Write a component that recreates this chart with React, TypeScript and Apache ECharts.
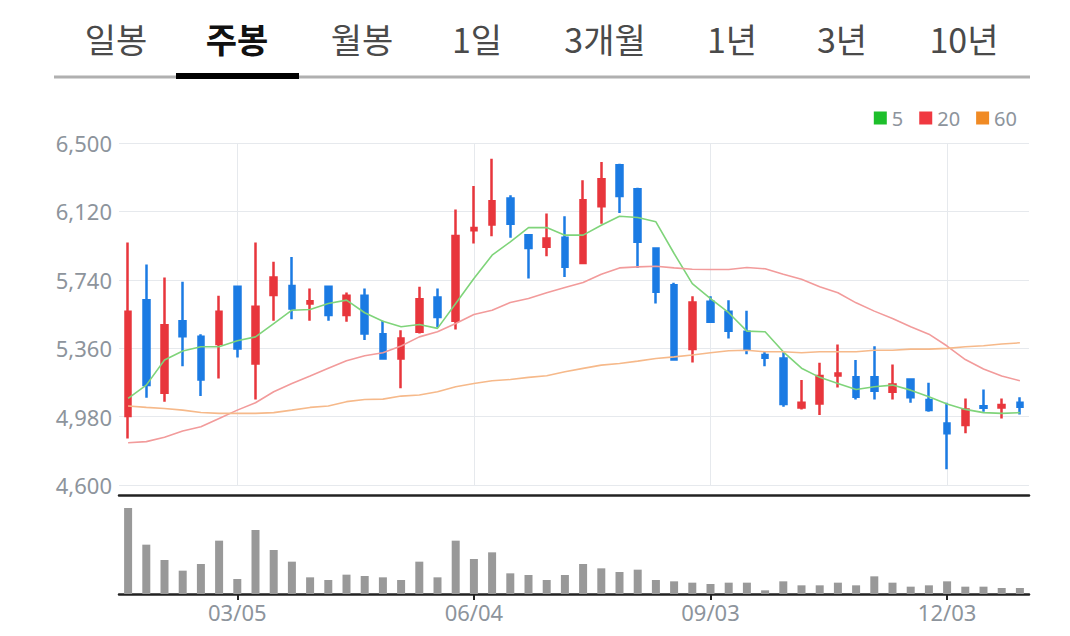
import React, { useEffect, useRef } from "react";
import * as echarts from "echarts";

// ---- data ----
const tabs = ["일봉", "주봉", "월봉", "1일", "3개월", "1년", "3년", "10년"];
const selectedTab = "주봉";

const dates = [
  "01/23", "01/30", "02/06", "02/13", "02/20", "02/27", "03/05", "03/12", "03/19", "03/26",
  "04/02", "04/09", "04/16", "04/23", "04/30", "05/07", "05/14", "05/21", "05/28", "06/04",
  "06/11", "06/18", "06/25", "07/02", "07/09", "07/16", "07/23", "07/30", "08/06", "08/13",
  "08/20", "08/27", "09/03", "09/10", "09/17", "09/24", "10/01", "10/08", "10/15", "10/22",
  "10/29", "11/05", "11/12", "11/19", "11/26", "12/03", "12/10", "12/17", "12/24", "12/31",
];
const labeledDates = ["03/05", "06/04", "09/03", "12/03"];

const opens = [
  4983, 5627, 5112, 5510, 5423, 5383, 5701, 5275, 5655, 5706,
  5608, 5701, 5544, 5651, 5438, 5303, 5451, 5642, 5512, 6015,
  6047, 6191, 5988, 5923, 5973, 5834, 6148, 6376, 6243, 5914,
  5710, 5355, 5618, 5562, 5451, 5322, 5303, 5031, 5053, 5209,
  5198, 5198, 5118, 5186, 5072, 4942, 4933, 5038, 5031, 5057,
];
const closes = [
  5562, 5155, 5488, 5427, 5186, 5562, 5359, 5590, 5753, 5581,
  5621, 5544, 5651, 5442, 5303, 5414, 5632, 5534, 5984, 6028,
  6176, 6052, 5917, 5969, 5812, 6182, 6298, 6206, 5951, 5673,
  5297, 5614, 5507, 5457, 5353, 5307, 5050, 5057, 5205, 5220,
  5090, 5124, 5159, 5087, 5016, 4887, 5020, 5029, 5044, 5035,
];
const lows = [
  4859, 5085, 5063, 5260, 5094, 5192, 5309, 5075, 5512, 5521,
  5512, 5512, 5507, 5405, 5298, 5137, 5442, 5475, 5464, 5941,
  5982, 5973, 5747, 5871, 5756, 5834, 6052, 6111, 5806, 5608,
  5290, 5281, 5501, 5414, 5327, 5260, 5035, 5020, 4989, 5142,
  5075, 5075, 5075, 5057, 5007, 4687, 4887, 5007, 4970, 4992,
];
const highs = [
  5947, 5825, 5753, 5729, 5438, 5651, 5701, 5947, 5840, 5867,
  5692, 5701, 5669, 5692, 5512, 5460, 5701, 5692, 6130, 6261,
  6413, 6210, 5988, 6108, 6093, 6293, 6395, 6385, 6252, 5919,
  5723, 5649, 5649, 5627, 5568, 5340, 5340, 5183, 5279, 5381,
  5294, 5371, 5270, 5192, 5168, 5057, 5081, 5131, 5081, 5087,
];
const volumes = [
  258, 148, 102, 70, 90, 160, 45, 192, 132, 97,
  50, 42, 58, 54, 50, 42, 97, 50, 160, 105,
  125, 62, 57, 42, 57, 90, 77, 66, 73, 42,
  38, 34, 30, 34, 34, 11, 38, 26, 26, 34,
  26, 53, 34, 22, 26, 38, 22, 22, 18, 18,
];
const ma5 = [
  5081, 5155, 5294, 5344, 5368, 5368, 5401, 5423, 5497, 5571,
  5575, 5608, 5627, 5557, 5510, 5479, 5492, 5470, 5608, 5747,
  5877, 5951, 6030, 6030, 5988, 5988, 6043, 6093, 6086, 6062,
  5886, 5719, 5636, 5557, 5455, 5451, 5340, 5249, 5198, 5164,
  5131, 5146, 5155, 5127, 5090, 5050, 5020, 5002, 4998, 5002,
];
const ma20 = [
  4835, 4841, 4865, 4900, 4924, 4970, 5016, 5057, 5118, 5164,
  5205, 5248, 5290, 5318, 5335, 5372, 5423, 5451, 5497, 5547,
  5571, 5614, 5636, 5668, 5697, 5725, 5771, 5806, 5812, 5815,
  5806, 5799, 5797, 5797, 5808, 5801, 5771, 5743, 5701, 5668,
  5612, 5566, 5525, 5479, 5438, 5372, 5297, 5244, 5205, 5179,
];
const ma60 = [
  5039, 5031, 5025, 5016, 5003, 4998, 4998, 4998, 5002, 5016,
  5031, 5039, 5063, 5075, 5077, 5094, 5100, 5118, 5146, 5164,
  5179, 5186, 5198, 5207, 5229, 5248, 5266, 5275, 5288, 5303,
  5312, 5322, 5335, 5346, 5349, 5340, 5340, 5335, 5340, 5340,
  5340, 5349, 5349, 5355, 5355, 5359, 5368, 5374, 5383, 5390,
];
const maNames = ["5", "20", "60"];
const priceMin = 4600;
const priceMax = 6500;
const priceStep = 380;

// ---- layout / style constants ----
const TAB_CENTERS = [116, 237, 362, 477, 605, 732, 842, 964];
const GRAY_TEXT = "#8d949c";
const GRID_LINE = "#e6e9ed";
const UP = "#e8363c";
const DOWN = "#1b7be3";
const LEGEND_COLORS = ["#1dbf2b", "#f03840", "#f08a24"];
const LINE_COLORS = ["#7fd47a", "#f29b9b", "#f6b98a"];
const NUM_FONT = "'Noto Sans', sans-serif";
const KR_FONT = "'Noto Sans CJK KR', sans-serif";

export default function App() {
  const ref = useRef<HTMLDivElement>(null);

  useEffect(() => {
    if (!ref.current) return;
    const chart = echarts.init(ref.current, undefined, { renderer: "svg" });
    const isLabeled = (i: number) => labeledDates.indexOf(dates[i]) >= 0;
    const candleData = dates.map((_, i) => [opens[i], closes[i], lows[i], highs[i]]);
    const maData = [ma5, ma20, ma60];

    chart.setOption({
      animation: false,
      backgroundColor: "#ffffff",
      textStyle: { fontFamily: NUM_FONT },
      graphic: [
        ...tabs.map((t, i) => ({
          type: "text",
          x: TAB_CENTERS[i],
          y: 38,
          style: {
            text: t,
            fill: t === selectedTab ? "#111111" : "#4a4a4a",
            fontSize: 34,
            fontWeight: t === selectedTab ? "bold" : "normal",
            fontFamily: KR_FONT,
            align: "center",
            verticalAlign: "middle",
          },
        })),
        { type: "rect", shape: { x: 54, y: 75.5, width: 976, height: 3 }, style: { fill: "#b0b0b0" } },
        {
          type: "rect",
          shape: { x: 176, y: 73, width: 123, height: 6 },
          style: { fill: "#000000" },
        },
      ],
      legend: {
        right: 48,
        top: 103,
        icon: "rect",
        itemWidth: 13,
        itemHeight: 13,
        itemGap: 16,
        textStyle: { color: GRAY_TEXT, fontSize: 20, fontFamily: NUM_FONT },
        data: maNames.map((n, i) => ({ name: n, itemStyle: { color: LEGEND_COLORS[i] } })),
      },
      grid: [
        { left: 119, right: 41, top: 143, height: 342 },
        { left: 119, right: 41, top: 495, height: 99 },
      ],
      xAxis: [
        {
          type: "category",
          gridIndex: 0,
          data: dates,
          boundaryGap: true,
          axisLine: { show: false },
          axisTick: { show: false },
          axisLabel: { show: false },
          splitLine: {
            show: true,
            interval: (i: number) => isLabeled(i),
            alignWithLabel: true,
            lineStyle: { color: GRID_LINE, width: 1 },
          },
        },
        {
          type: "category",
          gridIndex: 1,
          data: dates,
          boundaryGap: true,
          axisLine: { show: true, lineStyle: { color: "#222222", width: 2.5 } },
          axisTick: {
            show: true,
            alignWithLabel: true,
            interval: (i: number) => isLabeled(i),
            length: 6,
            lineStyle: { color: "#222222", width: 2 },
          },
          axisLabel: {
            show: true,
            interval: (i: number) => isLabeled(i),
            color: GRAY_TEXT,
            fontSize: 22,
            fontFamily: NUM_FONT,
            margin: 7,
          },
          splitLine: { show: false },
        },
        {
          type: "category",
          gridIndex: 1,
          position: "top",
          data: dates,
          axisLine: { show: true, lineStyle: { color: "#222222", width: 2.5 } },
          axisTick: { show: false },
          axisLabel: { show: false },
          splitLine: { show: false },
        },
      ],
      yAxis: [
        {
          type: "value",
          gridIndex: 0,
          min: priceMin,
          max: priceMax,
          interval: priceStep,
          axisLine: { show: false },
          axisTick: { show: false },
          axisLabel: {
            color: GRAY_TEXT,
            fontSize: 22,
            fontFamily: NUM_FONT,
            margin: 7,
            formatter: (v: number) => v.toLocaleString("en-US"),
          },
          splitLine: { show: true, lineStyle: { color: GRID_LINE, width: 1 } },
        },
        {
          type: "value",
          gridIndex: 1,
          min: 0,
          max: 297,
          show: false,
          splitLine: { show: false },
        },
      ],
      series: [
        {
          name: "price",
          type: "candlestick",
          xAxisIndex: 0,
          yAxisIndex: 0,
          data: candleData,
          barWidth: 6,
          itemStyle: {
            color: UP,
            color0: DOWN,
            borderColor: UP,
            borderColor0: DOWN,
            borderWidth: 2.5,
          },
        },
        ...maNames.map((n, k) => ({
          name: n,
          type: "line",
          xAxisIndex: 0,
          yAxisIndex: 0,
          data: maData[k],
          showSymbol: false,
          symbol: "none",
          smooth: false,
          itemStyle: { color: LEGEND_COLORS[k] },
          lineStyle: { color: LINE_COLORS[k], width: 1.6 },
          z: 3,
        })),
        {
          name: "volume",
          type: "bar",
          xAxisIndex: 1,
          yAxisIndex: 1,
          data: volumes,
          barWidth: 8,
          itemStyle: { color: "#999999" },
        },
      ],
    });

    return () => chart.dispose();
  }, []);

  return (
    <div
      ref={ref}
      style={{ position: "fixed", left: 0, top: 0, width: 1070, height: 636, background: "#fff" }}
    />
  );
}
